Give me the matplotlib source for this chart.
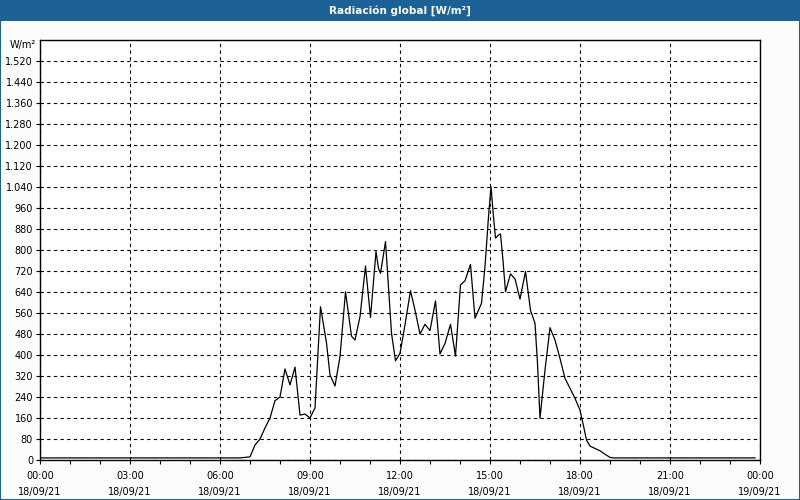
import matplotlib
matplotlib.use("Agg")
import matplotlib.pyplot as plt
from matplotlib.patches import Rectangle
from matplotlib.ticker import FuncFormatter, MultipleLocator

# minutos desde 18/09/21 00:00 y radiación global (W/m²)
minutos = [0, 400, 420, 430, 440, 450, 460, 470, 480, 490, 500, 510, 520, 530,
           540, 550, 561, 573, 580, 590, 600, 611, 623, 630, 640, 651, 661, 672,
           677, 681, 691, 703, 711, 720, 730, 741, 750, 760, 770, 780, 791, 800,
           810, 821, 831, 841, 850, 861, 870, 883, 890, 897, 902, 907, 911, 917,
           921, 926, 931, 941, 950, 960, 971, 981, 990, 995, 1000, 1010, 1020,
           1030, 1040, 1050, 1060, 1070, 1080, 1087, 1093, 1100, 1110, 1120,
           1130, 1140, 1146, 1430]
radiacion = [8, 8, 12, 57, 80, 122, 160, 226, 240, 347, 286, 354, 171, 175,
             160, 198, 584, 446, 324, 282, 394, 641, 472, 457, 546, 739, 543, 794,
             730, 711, 832, 483, 378, 406, 515, 645, 571, 480, 517, 493, 606, 404,
             444, 517, 396, 667, 683, 745, 540, 597, 737, 927, 1041, 927, 845, 857,
             861, 760, 641, 709, 690, 613, 718, 570, 521, 368, 159, 343, 504,
             457, 387, 311, 273, 235, 190, 130, 76, 53, 44, 35,
             22, 10, 8, 8]

etiquetas_x = ["00:00\n18/09/21", "03:00\n18/09/21", "06:00\n18/09/21",
               "09:00\n18/09/21", "12:00\n18/09/21", "15:00\n18/09/21",
               "18:00\n18/09/21", "21:00\n18/09/21", "00:00\n19/09/21"]

plt.rcParams['font.family'] = ['DejaVu Sans']
plt.rcParams['font.size'] = 7

fig = plt.figure(figsize=(8, 5), dpi=100, facecolor="#fbfdfb")

# barra de título
fig.patches.append(Rectangle((0, 1 - 21 / 500), 1, 21 / 500, transform=fig.transFigure,
                             facecolor="#1d6296", edgecolor="none", zorder=0))
fig.patches.append(Rectangle((0, 0), 1, 1, transform=fig.transFigure,
                             facecolor="none", edgecolor="#1d6296", linewidth=1.5, zorder=5))
fig.text(0.5, 1 - 10.5 / 500, "Radiación global [W/m²]", color="white",
         fontsize=7.5, fontweight="bold", ha="center", va="center")

ax = fig.add_axes([40 / 800, 40 / 500, 720 / 800, 420 / 500])
ax.set_facecolor("white")
ax.plot(minutos, radiacion, color="black", linewidth=0.9)

ax.set_xlim(0, 1440)
ax.set_ylim(0, 1600)
ax.set_xticks([i * 180 for i in range(len(etiquetas_x))])
ax.set_xticklabels(etiquetas_x, linespacing=1.75)
ax.xaxis.set_minor_locator(MultipleLocator(60))
ax.set_yticks(range(0, 1600, 80))
ax.yaxis.set_major_formatter(FuncFormatter(lambda v, p: f"{int(v):,}".replace(",", ".")))

ax.grid(True, which="major", color="black", linestyle=(0, (3, 3)), linewidth=0.8)
ax.tick_params(axis="both", which="major", direction="out", length=3, width=0.8,
               colors="black", pad=2)
ax.tick_params(axis="x", which="minor", direction="out", length=3, width=0.8)
ax.tick_params(axis="x", pad=5)
for s in ax.spines.values():
    s.set_linewidth(1)
    s.set_color("black")

fig.text(10 / 800, 1 - 45 / 500, "W/m²", fontsize=7, ha="left", va="center")

plt.savefig("out.png", dpi=100, facecolor=fig.get_facecolor())
